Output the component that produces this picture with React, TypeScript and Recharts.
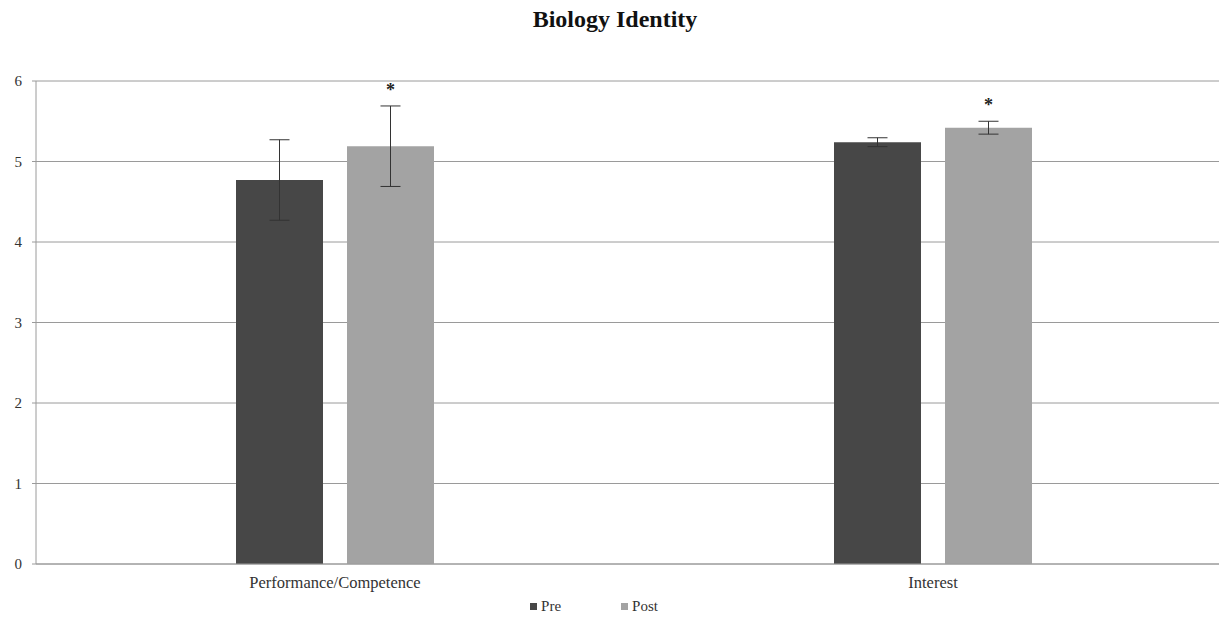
import { BarChart, Bar, XAxis, YAxis, CartesianGrid, Legend, ErrorBar, LabelList } from 'recharts';

const categories = ['Performance/Competence', 'Interest'];
const preValues = [4.77, 5.24];
const postValues = [5.19, 5.42];
const preErrors = [0.5, 0.055];
const postErrors = [0.5, 0.08];
const significant = [true, true];
const seriesNames = ['Pre', 'Post'];
const seriesColors = ['#474747', '#a3a3a3'];
const yTicks = [0, 1, 2, 3, 4, 5, 6];

const data = categories.map((name, i) => ({
  name,
  pre: preValues[i],
  post: postValues[i],
  preErr: preErrors[i],
  postErr: postErrors[i],
  sig: significant[i] ? '*' : '',
}));

const serif = '"Liberation Serif", "DejaVu Serif", serif';

// asterisk sits a little above the top of the post error bar
const renderStar = (props: any) => {
  const { x, y, width, height, value, index } = props;
  if (!value) return null;
  const perUnit = height / postValues[index];
  const top = y - postErrors[index] * perUnit - 10;
  return (
    <text x={x + width / 2} y={top} textAnchor="middle" fontFamily={serif} fontSize={18} fontWeight="bold" fill="#222">
      {value}
    </text>
  );
};

const renderLegend = () => (
  <div style={{ display: 'flex', justifyContent: 'center', fontFamily: serif, fontSize: 15, color: '#333', paddingRight: 50, paddingTop: 2 }}>
    {seriesNames.map((n, i) => (
      <span key={n} style={{ display: 'inline-flex', alignItems: 'center', marginLeft: i ? 60 : 0 }}>
        <span style={{ width: 7, height: 7, background: seriesColors[i], marginRight: 4, display: 'inline-block' }} />
        {n}
      </span>
    ))}
  </div>
);

export default function App() {
  return (
    <div style={{ position: 'absolute', left: 0, top: 0, width: 1219, height: 620, overflow: 'hidden', background: '#fff' }}>
      <div
        style={{
          position: 'absolute',
          top: 6,
          left: 0,
          width: 1230,
          textAlign: 'center',
          fontFamily: serif,
          fontWeight: 'bold',
          fontSize: 24,
          color: '#111',
        }}
      >
        Biology Identity
      </div>
      <BarChart
        width={1232}
        height={620}
        data={data}
        margin={{ top: 81, right: 0, left: 6, bottom: 0 }}
        barSize={87}
        barGap={24}
      >
        <CartesianGrid vertical={false} stroke="#9a9a9a" />
        <XAxis
          dataKey="name"
          height={32}
          tickLine={false}
          axisLine={{ stroke: '#9a9a9a' }}
          tick={{ fontFamily: serif, fontSize: 16.5, fill: '#333', dy: 4 }}
        />
        <YAxis
          width={30}
          domain={[0, 6]}
          ticks={yTicks}
          axisLine={{ stroke: '#9a9a9a' }}
          tickLine={{ stroke: '#9a9a9a' }}
          tickSize={4}
          tick={{ fontFamily: serif, fontSize: 15, fill: '#333', dx: -8 }}
        />
        <Legend verticalAlign="bottom" height={24} content={renderLegend} />
        <Bar dataKey="pre" name="Pre" fill={seriesColors[0]} isAnimationActive={false}>
          <ErrorBar dataKey="preErr" width={10} stroke="#333" strokeWidth={1} />
        </Bar>
        <Bar dataKey="post" name="Post" fill={seriesColors[1]} isAnimationActive={false}>
          <ErrorBar dataKey="postErr" width={10} stroke="#333" strokeWidth={1} />
          <LabelList dataKey="sig" content={renderStar} />
        </Bar>
      </BarChart>
    </div>
  );
}
